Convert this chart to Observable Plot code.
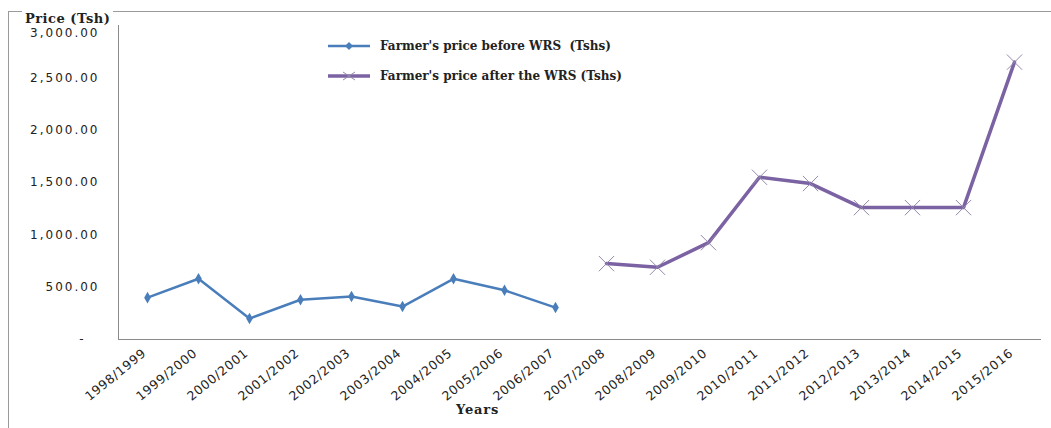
<!DOCTYPE html>
<html>
<head>
<meta charset="utf-8">
<script src="https://cdn.jsdelivr.net/npm/d3@7"></script>
<script src="https://cdn.jsdelivr.net/npm/@observablehq/plot@0.6"></script>
<style>
  html, body { margin: 0; padding: 0; background: #fff; }
  #wrap { position: relative; width: 1051px; height: 428px; overflow: hidden; }
  #wrap svg.plot { position: absolute; left: 0; top: 0; }
  #border { position: absolute; left: 8px; top: 11px; right: -2px; bottom: -2px;
            border-left: 1px solid #9a9a9a; border-top: 1px solid #9a9a9a; }
  .serif { font-family: "DejaVu Serif", serif; font-weight: bold; color: #222; }
  #ylabel { position: absolute; left: 22px; top: 11px; font-size: 13px; letter-spacing: 0.5px; background: #fff; padding: 0 3px; line-height: 15px; }
  #xlabel { position: absolute; left: 456px; top: 402px; font-size: 13px; letter-spacing: 0.8px; line-height: 15px; }
  #legend { position: absolute; left: 328px; top: 37px; }
  .lg { display: flex; align-items: center; height: 18px; margin-bottom: 12px; }
  .lg span { font-size: 12px; margin-left: 10px; white-space: pre; }
  g[aria-label="y-axis tick label"] text { letter-spacing: 2px; }
  g[aria-label="x-axis tick label"] text { letter-spacing: 0.7px; }
</style>
</head>
<body>
<div id="wrap">
  <div id="border"></div>
  <div id="ylabel" class="serif">Price (Tsh)</div>
  <div id="xlabel" class="serif">Years</div>
  <div id="legend" class="serif"></div>
</div>
<script>
const years = ["1998/1999","1999/2000","2000/2001","2001/2002","2002/2003","2003/2004","2004/2005","2005/2006","2006/2007",
               "2007/2008","2008/2009","2009/2010","2010/2011","2011/2012","2012/2013","2013/2014","2014/2015","2015/2016"];
const beforeYears = years.slice(0, 9);
const beforeValues = [400, 580, 200, 380, 410, 315, 580, 470, 305];
const afterYears = years.slice(9);
const afterValues = [725, 690, 925, 1550, 1490, 1260, 1260, 1260, 2650];
const yTicks = [0, 500, 1000, 1500, 2000, 2500, 3000];
const seriesNames = ["Farmer's price before WRS  (Tshs)", "Farmer's price after the WRS (Tshs)"];
const seriesColors = ["#4A7EBB", "#7B62A3"];
const crossColor = "#9389ab";

const beforeData = beforeYears.map((year, i) => ({year, value: beforeValues[i]}));
const afterData = afterYears.map((year, i) => ({year, value: afterValues[i]}));
const fmt = d3.format(",.2f");

const chart = Plot.plot({
  width: 1051,
  height: 428,
  marginLeft: 118,
  marginRight: 10,
  marginTop: 25,
  marginBottom: 89,
  x: {type: "point", domain: years, range: [147, 1014], padding: 0},
  y: {domain: [0, 3000]},
  style: {fontFamily: "'DejaVu Sans', sans-serif", fontSize: "12px", color: "#222", background: "transparent"},
  marks: [
    Plot.frame({anchor: "left", stroke: "#8a8a8a", strokeOpacity: 1}),
    Plot.ruleY([0], {stroke: "#8a8a8a"}),
    Plot.axisY({ticks: yTicks.filter(t => t > 0 && t < 3000), tickSize: 0, tickPadding: 19, tickFormat: fmt, label: null, fontSize: 12}),
    Plot.axisY({ticks: [3000], tickSize: 0, tickPadding: 19, dy: 8, tickFormat: fmt, label: null, fontSize: 12}),
    Plot.axisY({ticks: [0], tickSize: 0, tickPadding: 33, tickFormat: () => "-", label: null, fontSize: 12}),
    Plot.axisX({tickRotate: -39, tickSize: 0, tickPadding: 12, dx: -3, label: null, fontSize: 12.5}),
    Plot.line(beforeData, {x: "year", y: "value", stroke: seriesColors[0], strokeWidth: 2.5}),
    Plot.dot(beforeData, {x: "year", y: "value", symbol: "diamond", fill: seriesColors[0], r: 3.5}),
    Plot.line(afterData, {x: "year", y: "value", stroke: seriesColors[1], strokeWidth: 3.5}),
    Plot.dot(afterData, {x: "year", y: "value", symbol: "times", stroke: crossColor, strokeWidth: 1, r: 7})
  ]
});
chart.classList.add("plot");
document.getElementById("wrap").prepend(chart);

// legend
const legend = document.getElementById("legend");
seriesNames.forEach((name, i) => {
  const row = document.createElement("div");
  row.className = "lg";
  const sym = i === 0
    ? `<path d="M${21-4},9 L21,${9-4} L${21+4},9 L21,${9+4} Z" fill="${seriesColors[0]}"/>`
    : `<path d="M15,5 L27,13 M15,13 L27,5" stroke="${crossColor}" stroke-width="1"/>`;
  row.innerHTML = `<svg width="42" height="18"><line x1="0" x2="42" y1="9" y2="9" stroke="${seriesColors[i]}" stroke-width="${i === 0 ? 2.5 : 3.5}"/>${sym}</svg><span>${name}</span>`;
  legend.appendChild(row);
});
</script>
</body>
</html>
